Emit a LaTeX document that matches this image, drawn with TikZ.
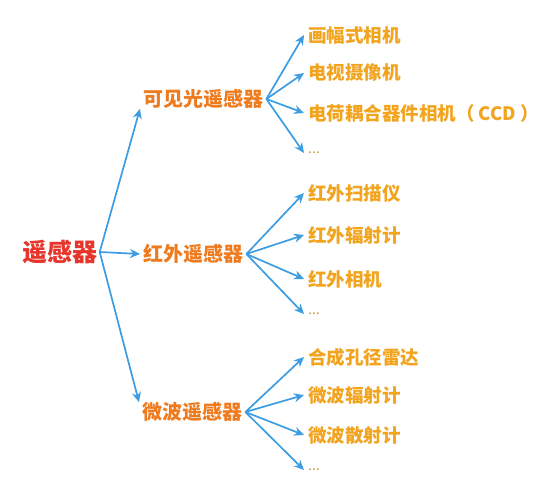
\documentclass[tikz,border=0pt]{standalone}
\usepackage{fontspec}
\newfontfamily\cjk{Noto Sans CJK SC}
\usetikzlibrary{arrows.meta}
\definecolor{rootred}{HTML}{E8352B}
\definecolor{midorange}{HTML}{EF7B1F}
\definecolor{leafgold}{HTML}{F2A41E}
\definecolor{arrowblue}{HTML}{3C9DE3}
\begin{document}
\begin{tikzpicture}[x=1pt,y=-1pt,
 rootnode/.style={font=\cjk\bfseries\fontsize{25}{25}\selectfont, text=rootred, inner sep=2pt},
 midnode/.style={font=\cjk\bfseries\fontsize{20}{20}\selectfont, text=midorange, inner xsep=3pt, inner ysep=0pt, anchor=west},
 leafnode/.style={font=\cjk\bfseries\fontsize{18.5}{18.5}\selectfont, text=leafgold, inner xsep=4pt, inner ysep=0pt, anchor=west},
 dotnode/.style={font=\cjk\fontsize{14}{14}\selectfont, text=leafgold!70!gray, inner xsep=4pt, inner ysep=0pt, anchor=west},
 arr/.style={draw=arrowblue, line width=1.7pt, -{Stealth[length=10pt,width=9pt]}}]
\fill[white] (0,0) rectangle (556,496);
\useasboundingbox (0,0) rectangle (556,496);

\node[rootnode] (r) at (60,252) {遥感器};
\node[midnode] (vis) at (140,99) {可见光遥感器};
\node[midnode] (ir) at (140,254) {红外遥感器};
\node[midnode] (mw) at (139,412) {微波遥感器};

\node[leafnode] (a1) at (304,35) {画幅式相机};
\node[leafnode] (a2) at (304,73) {电视摄像机};
\node[leafnode] (a3) at (304,113) {电荷耦合器件相机（ CCD ）};
\node[dotnode] (a4) at (304,153) {...};

\node[leafnode] (b1) at (304,193) {红外扫描仪};
\node[leafnode] (b2) at (304,235) {红外辐射计};
\node[leafnode] (b3) at (304,279) {红外相机};
\node[dotnode] (b4) at (304,314) {...};

\node[leafnode] (c1) at (304,357) {合成孔径雷达};
\node[leafnode] (c2) at (304,395) {微波辐射计};
\node[leafnode] (c3) at (304,435) {微波散射计};
\node[dotnode] (c4) at (304,470) {...};

\draw[arr] (r.east) -- (vis.south west);
\draw[arr] (r.east) -- (ir.west);
\draw[arr] (r.east) -- (mw.north west);

\foreach \t in {a1,a2,a3,a4} \draw[arr] (vis.east) -- (\t.west);
\foreach \t in {b1,b2,b3,b4} \draw[arr] (ir.east) -- (\t.west);
\foreach \t in {c1,c2,c3,c4} \draw[arr] (mw.east) -- (\t.west);
\end{tikzpicture}
\end{document}
